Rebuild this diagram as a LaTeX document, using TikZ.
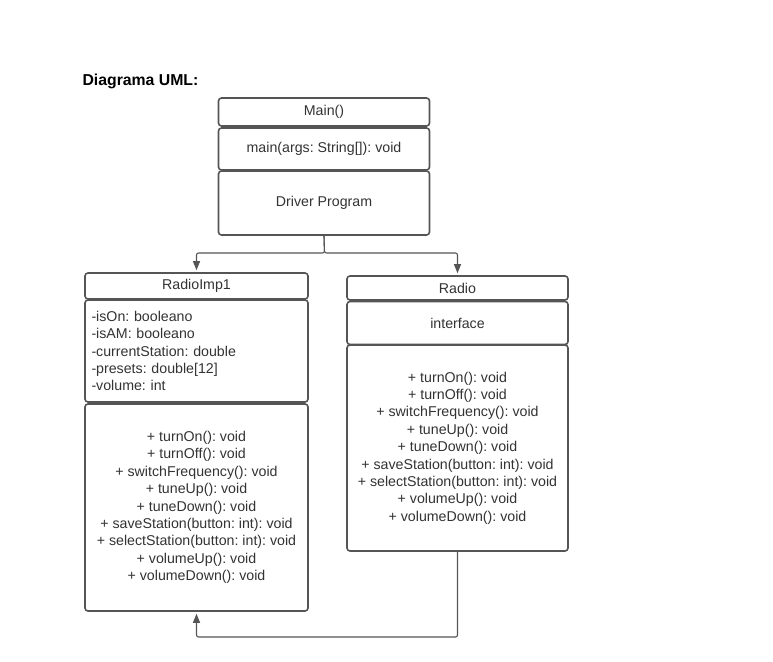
\documentclass[tikz,border=0pt]{standalone}
\usepackage{fontspec}
\setmainfont{Liberation Sans}
\usetikzlibrary{arrows.meta}
\definecolor{edge}{HTML}{555555}
\definecolor{ink}{HTML}{333333}
\frenchspacing
\tikzset{
  umlbox/.style={draw=edge, line width=1.6bp, rounded corners=3bp, fill=white,
    text=ink, inner sep=6bp, align=center,
    font=\fontsize{14.2bp}{17.4bp}\selectfont},
  attrbox/.style={umlbox, align=left, text width=210bp},
  conn/.style={draw=edge, line width=1.1bp, rounded corners=2bp,
    -{Triangle[length=9bp,width=7bp]}, shorten >=2bp}
}
\begin{document}
\begin{tikzpicture}[x=1bp,y=-1bp]
\useasboundingbox (0,0) rectangle (773,662);

\node[anchor=west, font=\fontsize{15.8bp}{18bp}\selectfont\bfseries] (title) at (79,81) {Diagrama UML:};

% Main driver class
\node[umlbox, minimum width=211bp, minimum height=28bp] (mainT) at (324,112) {Main()};
\node[umlbox, minimum width=211bp, minimum height=42bp] (mainM) at (324,149) {main(args: String[]): void};
\node[umlbox, minimum width=211bp, minimum height=64bp] (mainD) at (324,203) {Driver Program};

% Implementation class
\node[umlbox, minimum width=223bp, minimum height=26bp] (impT) at (196.5,286) {RadioImp1};
\node[attrbox, minimum width=223bp, minimum height=102bp] (impA) at (196.5,351) {-isOn: booleano\\-isAM: booleano\\-currentStation: double\\-presets: double[12]\\-volume: int};
\node[umlbox, minimum width=223bp, minimum height=207bp] (impM) at (196.5,507.5) {+ turnOn(): void\\+ turnOff(): void\\+ switchFrequency(): void\\+ tuneUp(): void\\+ tuneDown(): void\\+ saveStation(button: int): void\\+ selectStation(button: int): void\\+ volumeUp(): void\\+ volumeDown(): void};

% Interface
\node[umlbox, minimum width=221bp, minimum height=24bp] (radT) at (457.5,288) {Radio};
\node[umlbox, minimum width=221bp, minimum height=43bp] (radI) at (457.5,323) {interface};
\node[umlbox, minimum width=221bp, minimum height=206bp] (radM) at (457.5,448) {+ turnOn(): void\\+ turnOff(): void\\+ switchFrequency(): void\\+ tuneUp(): void\\+ tuneDown(): void\\+ saveStation(button: int): void\\+ selectStation(button: int): void\\+ volumeUp(): void\\+ volumeDown(): void};

% Connectors
\coordinate (split) at (324.5,253);
\draw[conn] (mainD.south) -- (split) -| (impT.north);
\draw[conn] (mainD.south) -- (split) -| (radT.north);
\coordinate (loop) at (457.5,637);
\draw[conn] (radM.south) -- (loop) -| (impM.south);
\end{tikzpicture}
\end{document}
